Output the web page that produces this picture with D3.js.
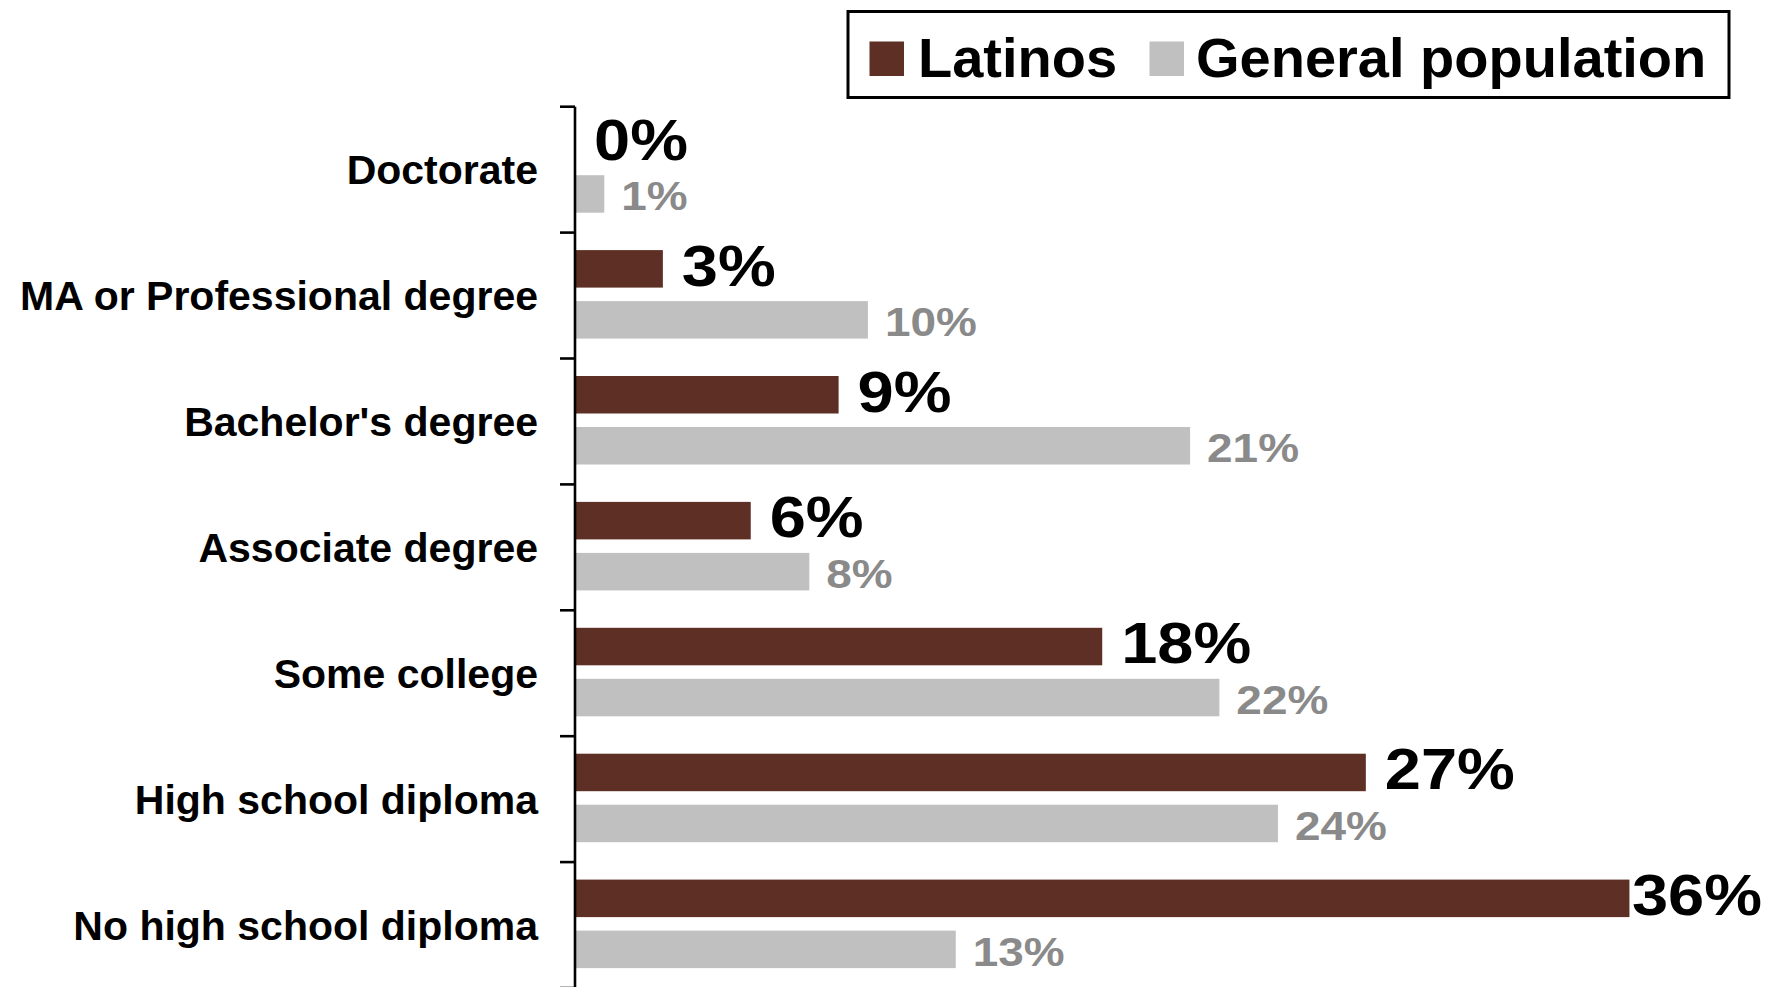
<!DOCTYPE html>
<html>
<head>
<meta charset="utf-8">
<script src="https://cdn.jsdelivr.net/npm/d3@7"></script>
<style>
  html, body { margin: 0; padding: 0; background: #fff; }
  svg { display: block; font-family: "Liberation Sans", Arial, sans-serif; font-weight: bold; }
</style>
</head>
<body>
<svg id="chart" width="1766" height="987"></svg>
<script>
// Educational attainment, share of adults by highest level completed
const categories = [
  "Doctorate",
  "MA or Professional degree",
  "Bachelor's degree",
  "Associate degree",
  "Some college",
  "High school diploma",
  "No high school diploma"
];
const seriesNames = ["Latinos", "General population"];
const latinos = [0, 3, 9, 6, 18, 27, 36];
const generalPopulation = [1, 10, 21, 8, 22, 24, 13];

const colors = { "Latinos": "#5e2f25", "General population": "#c0c0c0" };
const W = 1766, H = 987;

const svg = d3.select("#chart");
svg.append("rect").attr("width", W).attr("height", H).attr("fill", "#fff");

const axisX = 575;
const x = d3.scaleLinear().domain([0, 36]).range([axisX, axisX + 36 * 29.29]);
const y = d3.scaleBand().domain(categories).range([106.7, 106.7 + 7 * 125.9]).padding(0);
const inner = d3.scaleBand().domain(seriesNames).range([17.5, 17.5 + 88.5])
  .paddingInner(13.5 / 51).paddingOuter(0);

const rows = categories.map((c, i) => ({
  cat: c,
  vals: [
    { s: "Latinos", v: latinos[i] },
    { s: "General population", v: generalPopulation[i] }
  ]
}));

// bars
const g = svg.append("g");
const rowG = g.selectAll("g.row").data(rows).join("g")
  .attr("class", "row")
  .attr("transform", d => `translate(0,${y(d.cat)})`);

rowG.selectAll("rect").data(d => d.vals).join("rect")
  .attr("x", x(0))
  .attr("y", d => inner(d.s))
  .attr("width", d => x(d.v) - x(0))
  .attr("height", inner.bandwidth())
  .attr("fill", d => colors[d.s]);

// value labels at the end of each bar (slightly widened glyphs)
rowG.selectAll("text.val").data(d => d.vals).join("text")
  .attr("class", "val")
  .attr("font-size", d => d.s === "Latinos" ? 58 : 41)
  .attr("fill", d => d.s === "Latinos" ? "#000" : "#8a8a8a")
  .attr("y", d => inner(d.s) + inner.bandwidth() - (d.s === "Latinos" ? 2 : 2.5))
  .text(d => d.v + "%")
  .each(function(d) {
    const gap = d.s === "Latinos" ? 19 : 17;
    const w = this.getComputedTextLength() * 1.12;
    const sel = d3.select(this)
      .attr("textLength", w)
      .attr("lengthAdjust", "spacingAndGlyphs");
    const px = Math.min(x(d.v) + gap, W - 4 - w);
    sel.attr("x", Math.max(px, x(d.v) + 1));
  });

// category axis
const axis = svg.append("g");
axis.append("line")
  .attr("x1", axisX).attr("x2", axisX)
  .attr("y1", y.range()[0]).attr("y2", H + 5)
  .attr("stroke", "#000").attr("stroke-width", 2.6);
const tickYs = categories.map(c => y(c)).concat([y.range()[1]]);
axis.selectAll("line.tick").data(tickYs).join("line")
  .attr("class", "tick")
  .attr("x1", axisX - 15).attr("x2", axisX)
  .attr("y1", d => d).attr("y2", d => d)
  .attr("stroke", "#000").attr("stroke-width", 2.6);
axis.selectAll("text.cat").data(categories).join("text")
  .attr("class", "cat")
  .attr("x", 538)
  .attr("y", d => y(d) + y.bandwidth() / 2 + 41 * 0.358)
  .attr("text-anchor", "end")
  .attr("font-size", 41)
  .attr("fill", "#000")
  .text(d => d);

// legend
const legend = svg.append("g");
legend.append("rect")
  .attr("x", 848).attr("y", 11.5).attr("width", 881).attr("height", 86)
  .attr("fill", "#fff").attr("stroke", "#000").attr("stroke-width", 3);
const legendItems = [
  { s: "Latinos", sx: 869.5, tx: 918 },
  { s: "General population", sx: 1149.5, tx: 1196 }
];
legend.selectAll("rect.sw").data(legendItems).join("rect")
  .attr("class", "sw")
  .attr("x", d => d.sx).attr("y", 41.5)
  .attr("width", 34.5).attr("height", 34.5)
  .attr("fill", d => colors[d.s]);
legend.selectAll("text.lg").data(legendItems).join("text")
  .attr("class", "lg")
  .attr("x", d => d.tx).attr("y", 76.5)
  .attr("font-size", 56)
  .attr("fill", "#000")
  .text(d => d.s);
</script>
</body>
</html>
